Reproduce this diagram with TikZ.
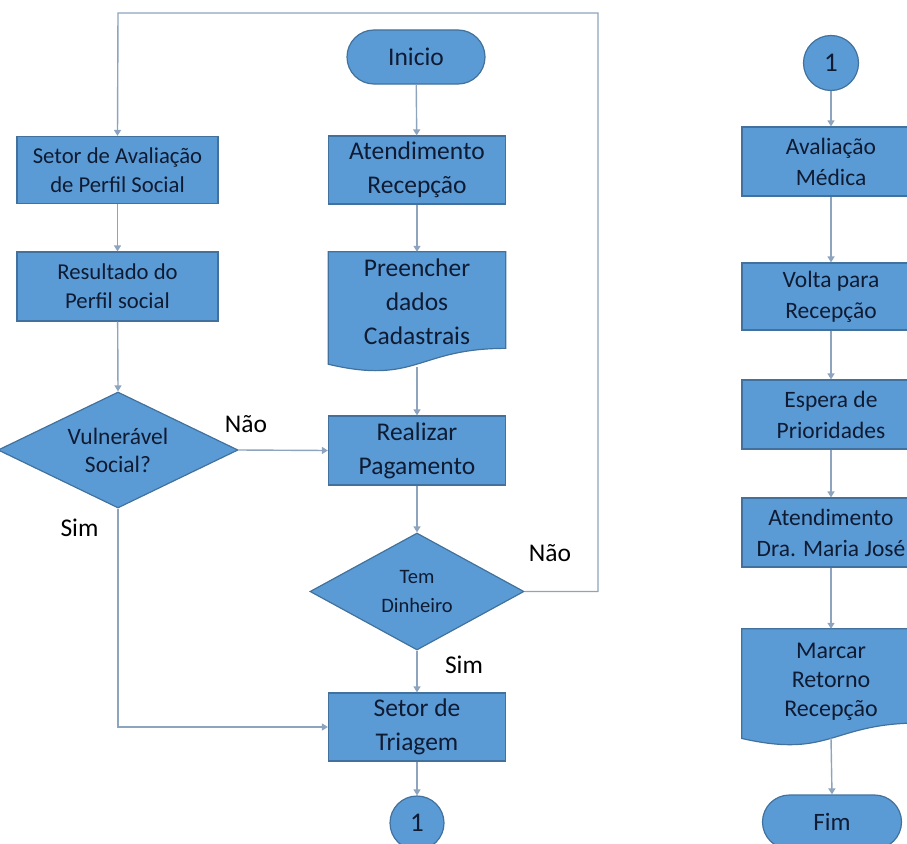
\documentclass[tikz,border=0pt]{standalone}
\usepackage{fontspec}
\setmainfont{Carlito}
\usetikzlibrary{shapes.geometric,shapes.misc,arrows.meta,calc}

\definecolor{shapefill}{HTML}{5B9BD5}
\definecolor{shapeline}{HTML}{41719C}
\definecolor{shapetext}{HTML}{0F1B33}
\definecolor{linkcol}{HTML}{8EA4BE}

\tikzset{
  base/.style={fill=shapefill, draw=shapeline, line width=1.2pt,
    text=shapetext, align=center, inner sep=0pt},
  leftfont/.style={font=\fontsize{22.7}{29}\selectfont},
  midfont/.style={font=\fontsize{25.5}{34}\selectfont},
  rightfont/.style={font=\fontsize{23.5}{31}\selectfont},
  digitfont/.style={font=\fontsize{27}{30}\selectfont},
  procbox/.style={base, rectangle, minimum height=68pt},
  leftbox/.style={procbox, leftfont, minimum width=201pt},
  midbox/.style={procbox, midfont, minimum width=177pt},
  rightbox/.style={procbox, rightfont, minimum width=178pt},
  docarea/.style={rectangle, inner sep=0pt, minimum height=#1},
  doctext/.style={text=shapetext, align=center, inner sep=0pt},
  docshape/.style={fill=shapefill, draw=shapeline, line width=1.2pt},
  decision/.style={base, diamond, shape aspect=2},
  terminal/.style={base, rounded rectangle, minimum height=54pt},
  joint/.style={base, circle, minimum size=54pt, digitfont},
  link/.style={draw=linkcol, line width=1.4pt,
    -{Triangle[width=7pt,length=6pt]}},
  answer/.style={font=\fontsize{25.5}{30}\selectfont, text=black, inner sep=0pt}
}

\newcommand{\docpath}[1]{%
  \path[docshape] (#1.north west) -- (#1.north east)
    -- ($(#1.north east)!0.802!(#1.south east)$)
    .. controls ($(#1.north)!0.802!(#1.south)$) and ($(#1.north)!1.107!(#1.south)$)
    .. ($(#1.north west)!0.934!(#1.south west)$) -- cycle;}

\begin{document}
\begin{tikzpicture}[x=1pt,y=-1pt]
\useasboundingbox (0,0) rectangle (907,843);
\clip (0,0) rectangle (907,843);

% ---- left column: social evaluation
\node[leftbox, minimum height=67pt] (sa) at (117.5,170) {Setor de Avaliação\\de Perfil Social};
\node[leftbox, minimum height=69pt] (rp) at (117.5,286.5) {Resultado do\\Perfil social};
\node[decision, minimum width=240pt, minimum height=116pt,
      font=\fontsize{23.5}{28}\selectfont] (vs) at (118,450) {Vulnerável\\Social?};

% ---- middle column: reception and payment
\node[terminal, midfont, minimum width=138pt] (ini) at (416,57) {Inicio};
\node[midbox] (ar) at (417,170) {Atendimento\\Recepção};
\node[docarea=120pt, minimum width=177pt] (pd) at (417,312) {};
\docpath{pd}
\node[doctext, midfont] (pdt) at (417,302) {Preencher\\dados\\Cadastrais};
\node[midbox, minimum height=69pt] (rpg) at (417,450.5) {Realizar\\Pagamento};
\node[decision, minimum width=214pt, minimum height=117pt,
      font=\fontsize{20.5}{29}\selectfont] (td) at (417,591.5) {Tem\\Dinheiro};
\node[midbox] (st) at (417,727) {Setor de\\Triagem};
\node[joint] (c1) at (417,823) {1};

% ---- right column: medical care
\node[joint, minimum size=55pt] (c2) at (831,63) {1};
\node[rightbox, minimum height=69pt] (am) at (831,161.5) {Avaliação\\Médica};
\node[rightbox, minimum height=67pt] (vr) at (831,296.5) {Volta para\\Recepção};
\node[rightbox, minimum height=69pt] (ep) at (831,414.5) {Espera de\\Prioridades};
\node[rightbox, minimum height=69pt] (ad) at (831,532.5) {Atendimento\\Dra. Maria José};
\node[docarea=117pt, minimum width=178pt] (mr) at (831,687.5) {};
\docpath{mr}
\node[doctext, font=\fontsize{24}{29}\selectfont] (mrt) at (831,682) {Marcar\\Retorno\\Recepção};
\node[terminal, font=\fontsize{25}{30}\selectfont, minimum width=139pt] (fim) at (832,822) {Fim};

% ---- answer labels
\node[answer] (nao1) at (246,424) {Não};
\node[answer] (sim1) at (79.5,528) {Sim};
\node[answer] (nao2) at (550,553) {Não};
\node[answer] (sim2) at (464,665) {Sim};

% ---- connectors, left column
\draw[link] (sa) -- (rp);
\draw[link] (rp) -- (vs.north);
\draw[link] (vs.east) -- (rpg.west);
\draw[link] (vs.south) |- (st.west);

% ---- connectors, middle column
\coordinate (pdb) at (417,367);
\draw[link] (ini) -- (ar);
\draw[link] (ar) -- (pd.north);
\draw[link] (pdb) -- (rpg.north);
\draw[link] (rpg) -- (td.north);
\draw[link] (td.south) -- (st.north);
\draw[link] (st) -- (c1);
\coordinate (loopR) at (598,13);
\coordinate (loopL) at (118,13);
\draw[link] (td.east) -| (loopR) -- (loopL) -- (sa.north);

% ---- connectors, right column
\draw[link] (c2) -- (am);
\draw[link] (am) -- (vr);
\draw[link] (vr) -- (ep);
\draw[link] (ep) -- (ad);
\draw[link] (ad) -- (mr.north);
\coordinate (mrb) at (831,738);
\draw[link] (mrb) -- (fim.north);
\end{tikzpicture}
\end{document}
